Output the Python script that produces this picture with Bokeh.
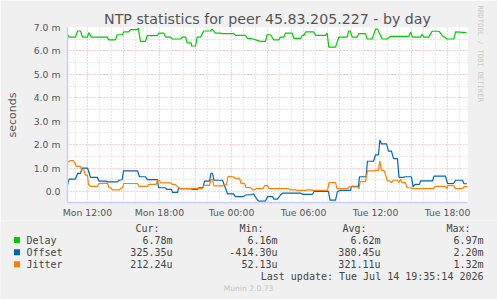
from bokeh.plotting import figure
from bokeh.layouts import column
from bokeh.models import FixedTicker, Range1d, Title
from bokeh.core.properties import value
from bokeh.embed import file_html
from bokeh.resources import INLINE

# ---------------- data (time = hours since Mon 00:00, values in ms) ----------------
delay_t = [10.31, 10.46, 11.0, 11.17, 11.42, 11.58, 12.0, 12.11, 12.33, 13.64, 13.78, 14.33, 14.47,
           14.89, 15.03, 15.44, 15.58, 16.14, 16.22, 16.42, 16.83, 16.97, 17.81, 17.94, 18.36, 18.5,
           18.92, 19.06, 19.75, 19.89, 20.17, 20.31, 20.64, 20.67, 21.0, 21.14, 21.42, 21.69, 22.25,
           22.39, 22.53, 22.67, 23.08, 23.22, 24.19, 24.33, 25.17, 25.31, 25.58, 26.42, 26.83, 26.97,
           27.25, 27.53, 27.94, 28.08, 28.36, 28.5, 29.06, 29.19, 29.75, 29.89, 30.03, 30.17, 30.86,
           31.0, 31.83, 31.97, 32.11, 32.67, 32.94, 33.64, 33.75, 33.89, 34.06, 34.47, 34.61, 35.17,
           35.31, 35.72, 36.0, 36.17, 36.42, 36.56, 36.97, 37.25, 38.78, 38.92, 39.08, 39.75, 39.89,
           40.03, 40.44, 40.72, 41.28, 41.56, 41.97, 42.53, 42.67, 43.58]
delay_v = [6.74, 6.59, 6.59, 6.85, 6.85, 6.59, 6.59, 6.78, 6.59, 6.59, 6.47, 6.47, 6.69,
           6.69, 6.81, 6.81, 6.91, 6.91, 6.97, 6.41, 6.41, 6.65, 6.65, 6.76, 6.76, 6.59,
           6.59, 6.51, 6.51, 6.59, 6.59, 6.34, 6.34, 6.21, 6.21, 6.59, 6.59, 6.85, 6.85,
           6.93, 6.85, 6.76, 6.76, 6.74, 6.74, 6.66, 6.66, 6.54, 6.54, 6.41, 6.41, 6.69,
           6.69, 6.47, 6.47, 6.59, 6.59, 6.76, 6.76, 6.54, 6.54, 6.66, 6.66, 6.81, 6.81,
           6.66, 6.66, 6.76, 6.16, 6.16, 6.59, 6.59, 6.85, 6.85, 6.59, 6.59, 6.74, 6.74,
           6.51, 6.51, 6.93, 6.93, 6.66, 6.51, 6.51, 6.62, 6.62, 6.81, 6.59, 6.59, 6.71,
           6.59, 6.59, 6.84, 6.84, 6.66, 6.51, 6.51, 6.81, 6.78]

offset_t = [10.31, 10.46, 11.0, 11.17, 11.42, 11.54, 12.0, 12.13, 12.25, 12.83, 12.96, 13.5, 13.67,
            14.5, 14.63, 14.89, 15.0, 16.17, 16.33, 16.83, 17.0, 17.83, 17.92, 18.5, 18.58, 19.0,
            19.08, 19.5, 19.58, 20.58, 20.75, 21.17, 21.25, 21.63, 21.75, 22.17, 22.29, 22.42, 22.54,
            23.25, 23.67, 24.17, 24.33, 25.0, 25.17, 25.67, 25.83, 26.08, 26.25, 26.83, 27.0, 27.42,
            27.54, 27.83, 28.08, 28.25, 29.75, 29.92, 30.75, 30.88, 32.08, 32.21, 32.67, 32.83, 33.08,
            33.92, 34.0, 34.58, 34.67, 35.21, 35.33, 35.83, 36.0, 36.25, 36.36, 36.5, 36.92, 37.08,
            37.33, 37.5, 37.83, 37.96, 38.33, 38.46, 39.0, 39.13, 39.29, 39.67, 39.75, 40.75, 40.88,
            41.83, 42.0, 42.5, 42.67, 43.25, 43.38, 43.63]
offset_v = [0.22, 0.53, 0.53, 0.77, 0.77, 1.0, 1.0, 0.8, 0.6, 0.6, 0.44, 0.44, 0.41,
            0.41, 0.48, 0.5, 0.88, 0.88, 0.63, 0.63, 0.51, 0.51, 0.16, 0.16, 0.09, 0.09,
            -0.04, -0.04, 0.12, 0.12, 0.09, 0.09, 0.16, 0.16, 0.44, 0.44, 0.77, 0.77, 0.48,
            0.48, -0.1, -0.1, -0.22, -0.22, -0.15, -0.13, -0.1, -0.3, -0.41, -0.41, -0.22, -0.22,
            -0.33, -0.33, -0.15, -0.07, -0.07, -0.12, -0.12, 0.0, 0.0, -0.37, -0.37, 0.0, 0.05,
            0.05, 0.22, 0.22, 0.63, 0.63, 1.29, 1.29, 1.56, 1.56, 2.2, 2.03, 2.03, 1.72,
            1.72, 1.4, 1.4, 0.6, 0.6, 0.63, 0.63, 0.2, 0.3, 0.3, 0.45, 0.45, 0.66,
            0.66, 0.34, 0.34, 0.48, 0.48, 0.33, 0.33]

jitter_t = [10.31, 10.46, 10.58, 10.83, 10.96, 11.08, 11.42, 11.5, 11.71, 11.83, 12.0, 12.08, 12.25,
            12.83, 12.96, 13.67, 13.79, 13.92, 14.08, 14.67, 14.79, 14.92, 15.0, 16.17, 16.29, 17.0,
            17.08, 17.71, 17.83, 18.0, 18.08, 18.92, 19.08, 19.33, 19.5, 19.75, 21.58, 21.71, 22.17,
            22.29, 22.42, 22.54, 23.25, 23.42, 23.58, 23.71, 24.17, 24.29, 24.67, 24.79, 25.08, 25.21,
            25.58, 25.75, 25.92, 26.04, 26.63, 26.75, 27.0, 27.13, 28.75, 28.92, 29.33, 29.5, 30.17,
            30.33, 30.67, 30.79, 32.0, 32.13, 32.67, 32.79, 33.67, 33.79, 34.5, 34.63, 34.71, 35.17,
            35.33, 35.83, 36.0, 36.25, 36.36, 36.5, 36.71, 36.83, 37.0, 37.17, 37.33, 37.46, 37.83,
            37.96, 38.08, 38.21, 38.5, 38.63, 38.92, 39.08, 40.83, 40.96, 41.83, 41.96, 42.04, 42.5,
            42.67, 43.25, 43.38, 43.63]
jitter_v = [1.24, 1.29, 1.32, 1.32, 1.2, 1.07, 1.07, 0.92, 0.92, 0.7, 0.7, 0.3, 0.22,
            0.22, 0.35, 0.35, 0.16, 0.16, 0.07, 0.07, 0.15, 0.15, 0.34, 0.34, 0.22, 0.22,
            0.3, 0.3, 0.48, 0.48, 0.37, 0.37, 0.3, 0.3, 0.2, 0.12, 0.12, 0.26, 0.26,
            0.52, 0.52, 0.24, 0.24, 0.28, 0.28, 0.65, 0.63, 0.56, 0.56, 0.35, 0.35, 0.17,
            0.17, 0.07, 0.07, 0.12, 0.12, 0.25, 0.25, 0.12, 0.12, 0.07, 0.07, 0.05, 0.05,
            0.07, 0.07, 0.05, 0.05, 0.38, 0.38, 0.12, 0.12, 0.2, 0.2, 0.12, 0.42, 0.42,
            0.88, 0.88, 0.9, 0.9, 1.3, 0.9, 0.9, 0.72, 0.45, 0.45, 0.38, 0.48, 0.48,
            0.38, 0.52, 0.38, 0.38, 0.16, 0.16, 0.12, 0.12, 0.22, 0.22, 0.12, 0.26, 0.26,
            0.12, 0.12, 0.21, 0.21]

x_tick_hours = [12, 18, 24, 30, 36, 42]
x_tick_labels = ["Mon 12:00", "Mon 18:00", "Tue 00:00", "Tue 06:00", "Tue 12:00", "Tue 18:00"]
y_tick_values = [0, 1, 2, 3, 4, 5, 6, 7]
y_tick_labels = ["0.0", "1.0 m", "2.0 m", "3.0 m", "4.0 m", "5.0 m", "6.0 m", "7.0 m"]

series_names = ["Delay", "Offset", "Jitter"]
series_colors = ["#00CC00", "#0066B3", "#FF8000"]
stat_headers = ["Cur:", "Min:", "Avg:", "Max:"]
cur_vals = ["6.78m", "325.35u", "212.24u"]
min_vals = ["6.16m", "-414.30u", "52.13u"]
avg_vals = ["6.62m", "380.45u", "321.11u"]
max_vals = ["6.97m", "2.20m", "1.32m"]

title_text = "NTP statistics for peer 45.83.205.227 - by day"
y_label = "seconds"
last_update = "Last update: Tue Jul 14 19:35:14 2026"
footer = "Munin 2.0.73"
watermark = "RRDTOOL / TOBI OETIKER"

BG = "#F0F0F0"
TXT = "#555555"
LEG_TXT = "#444444"

# ---------------- chart figure ----------------
W = 497
TOP_H = 220
FL, FT, FR, FB = 67, 27, 467, 202   # frame edges in canvas px

p = figure(width=W, height=TOP_H, output_backend="svg", toolbar_location=None,
           x_range=Range1d(10.3333, 43.6667), y_range=Range1d(-0.47, 7.0),
           min_border_left=FL, min_border_right=W - FR, min_border_top=FT,
           min_border_bottom=TOP_H - FB)
p.title.visible = False
p.background_fill_color = "white"
p.border_fill_color = BG
p.outline_line_color = None

# title centred on the whole image (frame centre is 267, image centre 248)
p.add_layout(Title(text=title_text, align="center", text_font="DejaVu Sans",
                   text_font_size="14.2px", text_color=TXT, text_font_style="normal",
                   standoff=2, offset=-19), "above")
p.add_layout(Title(text=watermark, align="left", text_font="DejaVu Sans Mono",
                   text_font_size="7.3px", text_color="#C8C8C8", text_font_style="normal",
                   standoff=16, offset=-22), "right")

grid_red = "#EFA8A8"
grid_gray = "#D2D2D2"

p.xaxis.ticker = FixedTicker(ticks=x_tick_hours)
p.xaxis.major_label_overrides = {h: l for h, l in zip(x_tick_hours, x_tick_labels)}
p.xgrid.ticker = FixedTicker(ticks=list(range(12, 44, 3)),
                             minor_ticks=[h for h in range(11, 44) if h % 3 != 0])
p.yaxis.ticker = FixedTicker(ticks=y_tick_values)
p.yaxis.major_label_overrides = {v: l for v, l in zip(y_tick_values, y_tick_labels)}
p.ygrid.ticker = FixedTicker(ticks=y_tick_values, minor_ticks=[v + 0.5 for v in range(0, 7)])

for g in (p.xgrid, p.ygrid):
    g.grid_line_color = grid_red
    g.grid_line_dash = "1 2"
    g.grid_line_width = 1
    g.minor_grid_line_color = grid_gray
    g.minor_grid_line_dash = "1 2"
    g.minor_grid_line_width = 1

axis_col = "#C8CEFA"
for ax in (p.xaxis, p.yaxis):
    ax.axis_line_color = axis_col
    ax.axis_line_width = 1.5
    ax.major_tick_line_color = None
    ax.minor_tick_line_color = None
    ax.major_tick_out = 0
    ax.major_tick_in = 0
    ax.major_label_text_font = "DejaVu Sans"
    ax.major_label_text_font_size = "9.3px"
    ax.major_label_text_color = TXT
p.xaxis.major_label_standoff = 4
p.yaxis.major_label_standoff = 7
p.yaxis.axis_label = y_label
p.yaxis.axis_label_text_font = "DejaVu Sans"
p.yaxis.axis_label_text_font_size = "11px"
p.yaxis.axis_label_text_font_style = "normal"
p.yaxis.axis_label_text_color = TXT
p.yaxis.axis_label_standoff = 12

for t, v, c in ((delay_t, delay_v, series_colors[0]),
                (offset_t, offset_v, series_colors[1]),
                (jitter_t, jitter_v, series_colors[2])):
    p.line(t, v, line_color=c, line_width=1.2)

# ---------------- legend / footer figure (pixel-like coordinates) ----------------
LEG_H = 299 - TOP_H
q = figure(width=W, height=LEG_H, output_backend="svg", toolbar_location=None,
           x_range=Range1d(0, W), y_range=Range1d(LEG_H, 0),
           x_axis_type=None, y_axis_type=None, min_border=0,
           min_border_left=0, min_border_right=0, min_border_top=0, min_border_bottom=0)
q.title.visible = False
q.grid.visible = False
q.background_fill_color = BG
q.border_fill_color = BG
q.outline_line_color = None

mono = value("DejaVu Sans Mono")
Y0 = TOP_H
hdr_right = [159, 263, 366, 470]
val_right = [172, 277, 380, 483]
rows_y = [239.5 - Y0, 251.7 - Y0, 263.7 - Y0]

q.text(x=hdr_right, y=[228 - Y0] * 4, text=stat_headers, text_font=mono,
       text_font_size="10px", text_color=LEG_TXT, text_align="right", text_baseline="middle")
q.rect(x=[16.5] * 3, y=rows_y, width=6, height=6, fill_color=series_colors, line_color=None)
q.text(x=[26] * 3, y=rows_y, text=series_names, text_font=mono,
       text_font_size="10px", text_color=LEG_TXT, text_align="left", text_baseline="middle")
for vals, xr in zip((cur_vals, min_vals, avg_vals, max_vals), val_right):
    q.text(x=[xr] * 3, y=rows_y, text=vals, text_font=mono,
           text_font_size="10px", text_color=LEG_TXT, text_align="right", text_baseline="middle")
q.text(x=[483], y=[275.7 - Y0], text=[last_update], text_font=mono,
       text_font_size="10px", text_color=LEG_TXT, text_align="right", text_baseline="middle")
q.text(x=[248], y=[287.7 - Y0], text=[footer], text_font=value("DejaVu Sans"),
       text_font_size="7.6px", text_color="#C4C4C4", text_align="center", text_baseline="middle")

layout = column(p, column(q, spacing=0), spacing=0)
open("out.html", "w").write(file_html(layout, INLINE))
